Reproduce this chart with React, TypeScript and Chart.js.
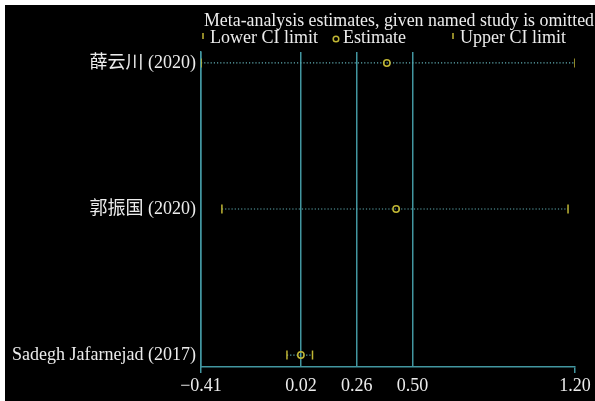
import React, { useEffect, useRef } from "react";
import { Chart, registerables } from "chart.js";

Chart.register(...registerables);

const studies = ["薛云川 (2020)", "郭振国 (2020)", "Sadegh Jafarnejad (2017)"];
const estimates = [0.39, 0.43, 0.02];
const lowerCI = [-0.41, -0.32, -0.04];
const upperCI = [1.2, 1.17, 0.07];
const xTickValues = [-0.41, 0.02, 0.26, 0.5, 1.2];
const refLines = [-0.41, 0.02, 0.26, 0.5];
const titleText = "Meta-analysis estimates, given named study is omitted";
const legendLabels = ["Lower CI limit", "Estimate", "Upper CI limit"];

const CYAN = "rgb(66,150,160)";
const DOT = "rgb(95,172,178)";
const YELLOW = "rgb(192,182,52)";
const TEXT = "rgb(236,236,236)";
const FONT = "'Liberation Serif', 'Noto Sans CJK SC', serif";
const FS = 18;

const fmt = (v: number) => (v < 0 ? "\u2212" : "") + Math.abs(v).toFixed(2);

const legendPlugin = {
  id: "metaLegend",
  afterDraw(chart: any) {
    const ctx = chart.ctx;
    ctx.save();
    ctx.fillStyle = TEXT;
    ctx.textBaseline = "alphabetic";
    ctx.textAlign = "left";
    ctx.font = `17.85px ${FONT}`;
    ctx.fillText(titleText, 199, 21);
    ctx.font = `${FS}px ${FONT}`;
    ctx.strokeStyle = YELLOW;
    ctx.lineWidth = 1.5;
    ctx.beginPath();
    ctx.moveTo(198, 28);
    ctx.lineTo(198, 34);
    ctx.stroke();
    ctx.fillText(legendLabels[0], 205, 38);
    ctx.beginPath();
    ctx.arc(331, 34, 2.8, 0, Math.PI * 2);
    ctx.stroke();
    ctx.fillText(legendLabels[1], 338, 38);
    ctx.beginPath();
    ctx.moveTo(448, 28);
    ctx.lineTo(448, 34);
    ctx.stroke();
    ctx.fillText(legendLabels[2], 455, 38);
    ctx.restore();
  },
};

export default function App() {
  const ref = useRef<HTMLCanvasElement>(null);
  useEffect(() => {
    if (!ref.current) return;
    const lineSets = studies.map((_, i) => ({
      type: "line" as const,
      data: [
        { x: lowerCI[i], y: i },
        { x: upperCI[i], y: i },
      ],
      borderColor: DOT,
      borderWidth: 1.2,
      borderDash: [1.2, 2],
      pointRadius: 0,
      order: 5,
    }));
    const chart = new Chart(ref.current, {
      type: "scatter",
      data: {
        datasets: [
          {
            data: estimates.map((v, i) => ({ x: v, y: i })),
            pointStyle: "circle",
            pointRadius: 3.2,
            borderColor: YELLOW,
            backgroundColor: "transparent",
            borderWidth: 1.5,
            order: 0,
          },
          {
            data: lowerCI.map((v, i) => ({ x: v, y: i })),
            pointStyle: "line",
            rotation: 90,
            pointRadius: 4.5,
            borderColor: YELLOW,
            borderWidth: 1.5,
            order: 1,
          },
          {
            data: upperCI.map((v, i) => ({ x: v, y: i })),
            pointStyle: "line",
            rotation: 90,
            pointRadius: 4.5,
            borderColor: YELLOW,
            borderWidth: 1.5,
            order: 1,
          },
          ...lineSets,
        ] as any,
      },
      options: {
        responsive: false,
        animation: false,
        layout: { padding: { top: 47, right: 20, left: 0, bottom: 0 } },
        plugins: { legend: { display: false }, tooltip: { enabled: false }, title: { display: false } },
        scales: {
          x: {
            type: "linear",
            min: -0.41,
            max: 1.2,
            afterBuildTicks: (s: any) => {
              s.ticks = xTickValues.map((v) => ({ value: v }));
            },
            afterFit: (s: any) => {
              s.height = 34;
            },
            ticks: {
              autoSkip: false,
              maxRotation: 0,
              color: TEXT,
              font: { family: FONT, size: FS },
              padding: 2,
              callback: (v: any) => fmt(Number(v)),
            },
            grid: {
              color: (c: any) =>
                c.tick && refLines.some((r) => Math.abs(r - c.tick.value) < 1e-6) ? CYAN : "transparent",
              tickColor: (c: any) =>
                c.tick && (Math.abs(c.tick.value - 1.2) < 1e-6 || Math.abs(c.tick.value + 0.41) < 1e-6)
                  ? CYAN
                  : "transparent",
              lineWidth: 1.5,
              tickLength: 6,
              drawTicks: true,
            },
            border: { color: CYAN, width: 1.5 },
          },
          y: {
            type: "linear",
            reverse: true,
            min: -0.075,
            max: 2.082,
            afterBuildTicks: (s: any) => {
              s.ticks = studies.map((_, i) => ({ value: i }));
            },
            afterFit: (s: any) => {
              s.width = 196;
            },
            ticks: {
              autoSkip: false,
              color: TEXT,
              font: { family: FONT, size: FS },
              padding: 5,
              callback: (v: any) => studies[Number(v)] ?? "",
            },
            grid: { display: false, drawTicks: false },
            border: { color: CYAN, width: 1.5 },
          },
        },
      },
      plugins: [legendPlugin],
    } as any);
    return () => chart.destroy();
  }, []);
  return (
    <div style={{ position: "fixed", left: 5, top: 5, width: 590, height: 396 }}>
      <canvas ref={ref} width={590} height={396} style={{ background: "#000", display: "block" }} />
    </div>
  );
}
